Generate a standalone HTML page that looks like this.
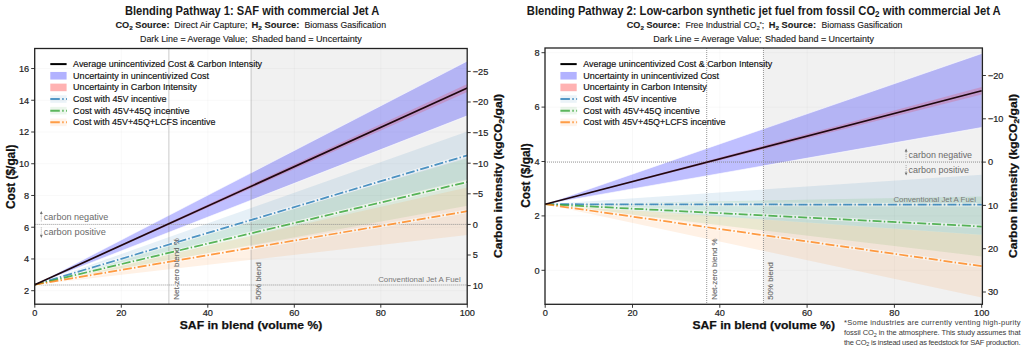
<!DOCTYPE html><html><head><meta charset="utf-8"><style>html,body{margin:0;padding:0;background:#fff;width:1024px;height:348px;overflow:hidden}svg{display:block}text{font-family:"Liberation Sans", sans-serif}</style></head><body>
<svg width="1024" height="348" viewBox="0 0 1024 348">
<rect width="1024" height="348" fill="#fff"/>
<clipPath id="cL"><rect x="34.7" y="48.5" width="432.5" height="255.7"/></clipPath>
<rect x="34.7" y="48.5" width="432.5" height="255.7" fill="#fff"/>
<g clip-path="url(#cL)">
<rect x="251.05" y="48.5" width="216.14999999999998" height="255.7" fill="#f1f1f1"/>
<line x1="34.8" y1="48.5" x2="34.8" y2="304.2" stroke="#000" stroke-opacity="0.035" stroke-width="0.8"/>
<line x1="121.3" y1="48.5" x2="121.3" y2="304.2" stroke="#000" stroke-opacity="0.035" stroke-width="0.8"/>
<line x1="207.8" y1="48.5" x2="207.8" y2="304.2" stroke="#000" stroke-opacity="0.035" stroke-width="0.8"/>
<line x1="294.3" y1="48.5" x2="294.3" y2="304.2" stroke="#000" stroke-opacity="0.035" stroke-width="0.8"/>
<line x1="380.8" y1="48.5" x2="380.8" y2="304.2" stroke="#000" stroke-opacity="0.035" stroke-width="0.8"/>
<line x1="467.3" y1="48.5" x2="467.3" y2="304.2" stroke="#000" stroke-opacity="0.035" stroke-width="0.8"/>
<line x1="34.7" y1="290.7" x2="467.2" y2="290.7" stroke="#000" stroke-opacity="0.035" stroke-width="0.8"/>
<line x1="34.7" y1="258.96" x2="467.2" y2="258.96" stroke="#000" stroke-opacity="0.035" stroke-width="0.8"/>
<line x1="34.7" y1="227.22" x2="467.2" y2="227.22" stroke="#000" stroke-opacity="0.035" stroke-width="0.8"/>
<line x1="34.7" y1="195.48000000000002" x2="467.2" y2="195.48000000000002" stroke="#000" stroke-opacity="0.035" stroke-width="0.8"/>
<line x1="34.7" y1="163.74" x2="467.2" y2="163.74" stroke="#000" stroke-opacity="0.035" stroke-width="0.8"/>
<line x1="34.7" y1="132.0" x2="467.2" y2="132.0" stroke="#000" stroke-opacity="0.035" stroke-width="0.8"/>
<line x1="34.7" y1="100.26000000000002" x2="467.2" y2="100.26000000000002" stroke="#000" stroke-opacity="0.035" stroke-width="0.8"/>
<line x1="34.7" y1="68.52000000000001" x2="467.2" y2="68.52000000000001" stroke="#000" stroke-opacity="0.035" stroke-width="0.8"/>
<path d="M34.8,284.6694 L467.3,131.52390000000003 L467.3,179.1339 Z" fill="#1f77b4" fill-opacity="0.11"/>
<path d="M34.8,284.6694 L467.3,158.18550000000002 L467.3,205.7955 Z" fill="#2ca02c" fill-opacity="0.11"/>
<path d="M34.8,284.6694 L467.3,187.3863 L467.3,234.99630000000002 Z" fill="#ff7f0e" fill-opacity="0.11"/>
<path d="M34.8,284.6694 L467.3,61.06110000000001 L467.3,115.8126 Z" fill="#0000ff" fill-opacity="0.25"/>
<path d="M34.8,284.6694 L467.3,61.06110000000001 M34.8,284.6694 L467.3,115.8126" stroke="#fff" stroke-opacity="0.6" stroke-width="1" fill="none"/>
<path d="M34.8,284.6694 L467.3,84.07260000000002 L467.3,92.00760000000002 Z" fill="#ff0000" fill-opacity="0.16"/>
<line x1="34.7" y1="224.4" x2="467.2" y2="224.4" stroke="#8a8a8a" stroke-width="0.9" stroke-dasharray="1,1"/>
<line x1="34.7" y1="284.9868" x2="467.2" y2="284.9868" stroke="#8a8a8a" stroke-width="0.9" stroke-dasharray="1,1"/>
<line x1="168.875" y1="48.5" x2="168.875" y2="304.2" stroke="#8a8a8a" stroke-width="0.9" stroke-dasharray="1,1"/>
<line x1="251.05" y1="48.5" x2="251.05" y2="304.2" stroke="#8a8a8a" stroke-width="0.9" stroke-dasharray="1,1"/>
<line x1="34.8" y1="284.6694" x2="467.3" y2="155.3289" stroke="#fff" stroke-opacity="0.55" stroke-width="3.6"/>
<line x1="34.8" y1="284.6694" x2="467.3" y2="181.9905" stroke="#fff" stroke-opacity="0.55" stroke-width="3.6"/>
<line x1="34.8" y1="284.6694" x2="467.3" y2="211.1913" stroke="#fff" stroke-opacity="0.55" stroke-width="3.6"/>
<line x1="34.8" y1="284.6694" x2="467.3" y2="155.3289" stroke="#1f77b4" stroke-opacity="0.78" stroke-width="1.75" stroke-dasharray="9,2.25,1.4,2.25"/>
<line x1="34.8" y1="284.6694" x2="467.3" y2="181.9905" stroke="#2ca02c" stroke-opacity="0.78" stroke-width="1.75" stroke-dasharray="9,2.25,1.4,2.25"/>
<line x1="34.8" y1="284.6694" x2="467.3" y2="211.1913" stroke="#ff7f0e" stroke-opacity="0.78" stroke-width="1.75" stroke-dasharray="9,2.25,1.4,2.25"/>
<line x1="34.8" y1="284.6694" x2="467.3" y2="88.04010000000002" stroke="#1f0810" stroke-width="1.7"/>
<line x1="41.3" y1="221.4" x2="41.3" y2="212.4" stroke="#888" stroke-width="0.7" stroke-dasharray="1,1"/>
<path d="M39.9,214.1 L41.3,210.9 L42.699999999999996,214.1 Z" fill="#707070"/>
<line x1="41.3" y1="227.4" x2="41.3" y2="236.4" stroke="#888" stroke-width="0.7" stroke-dasharray="1,1"/>
<path d="M39.9,234.70000000000002 L41.3,237.9 L42.699999999999996,234.70000000000002 Z" fill="#707070"/>
<text x="43.8" y="219.9" font-size="8.5" font-weight="normal" fill="#6a6a6a" text-anchor="start" textLength="64.5" lengthAdjust="spacingAndGlyphs">carbon negative</text>
<text x="43.8" y="235.4" font-size="8.5" font-weight="normal" fill="#6a6a6a" text-anchor="start" textLength="62" lengthAdjust="spacingAndGlyphs">carbon positive</text>
<text x="460.7" y="281.9868" font-size="7.6" font-weight="normal" fill="#777" text-anchor="end" textLength="82.5" lengthAdjust="spacingAndGlyphs">Conventional Jet A Fuel</text>
<text x="178.875" y="299.7" font-size="7.8" font-weight="normal" fill="#6a6a6a" text-anchor="start" textLength="61.5" lengthAdjust="spacingAndGlyphs" transform="rotate(-90 178.875 299.7)" stroke="#6a6a6a" stroke-width="0.12">Net-zero blend %</text>
<text x="261.05" y="299.7" font-size="7.8" font-weight="normal" fill="#6a6a6a" text-anchor="start" textLength="37.5" lengthAdjust="spacingAndGlyphs" transform="rotate(-90 261.05 299.7)" stroke="#6a6a6a" stroke-width="0.12">50% blend</text>
</g>
<rect x="34.7" y="48.5" width="432.5" height="255.7" fill="none" stroke="#222" stroke-width="1.3"/>
<line x1="31.200000000000003" y1="290.7" x2="34.7" y2="290.7" stroke="#222" stroke-width="0.9"/>
<text x="29.200000000000003" y="294.0" font-size="9.2" font-weight="normal" fill="#222" text-anchor="end" stroke="#222" stroke-width="0.2">2</text>
<line x1="31.200000000000003" y1="258.96" x2="34.7" y2="258.96" stroke="#222" stroke-width="0.9"/>
<text x="29.200000000000003" y="262.26" font-size="9.2" font-weight="normal" fill="#222" text-anchor="end" stroke="#222" stroke-width="0.2">4</text>
<line x1="31.200000000000003" y1="227.22" x2="34.7" y2="227.22" stroke="#222" stroke-width="0.9"/>
<text x="29.200000000000003" y="230.52" font-size="9.2" font-weight="normal" fill="#222" text-anchor="end" stroke="#222" stroke-width="0.2">6</text>
<line x1="31.200000000000003" y1="195.48000000000002" x2="34.7" y2="195.48000000000002" stroke="#222" stroke-width="0.9"/>
<text x="29.200000000000003" y="198.78000000000003" font-size="9.2" font-weight="normal" fill="#222" text-anchor="end" stroke="#222" stroke-width="0.2">8</text>
<line x1="31.200000000000003" y1="163.74" x2="34.7" y2="163.74" stroke="#222" stroke-width="0.9"/>
<text x="29.200000000000003" y="167.04000000000002" font-size="9.2" font-weight="normal" fill="#222" text-anchor="end" stroke="#222" stroke-width="0.2">10</text>
<line x1="31.200000000000003" y1="132.0" x2="34.7" y2="132.0" stroke="#222" stroke-width="0.9"/>
<text x="29.200000000000003" y="135.3" font-size="9.2" font-weight="normal" fill="#222" text-anchor="end" stroke="#222" stroke-width="0.2">12</text>
<line x1="31.200000000000003" y1="100.26000000000002" x2="34.7" y2="100.26000000000002" stroke="#222" stroke-width="0.9"/>
<text x="29.200000000000003" y="103.56000000000002" font-size="9.2" font-weight="normal" fill="#222" text-anchor="end" stroke="#222" stroke-width="0.2">14</text>
<line x1="31.200000000000003" y1="68.52000000000001" x2="34.7" y2="68.52000000000001" stroke="#222" stroke-width="0.9"/>
<text x="29.200000000000003" y="71.82000000000001" font-size="9.2" font-weight="normal" fill="#222" text-anchor="end" stroke="#222" stroke-width="0.2">16</text>
<line x1="467.2" y1="71.4" x2="470.7" y2="71.4" stroke="#222" stroke-width="0.9"/>
<text x="472.7" y="74.7" font-size="9.2" font-weight="normal" fill="#222" text-anchor="start" stroke="#222" stroke-width="0.2">−25</text>
<line x1="467.2" y1="102.0" x2="470.7" y2="102.0" stroke="#222" stroke-width="0.9"/>
<text x="472.7" y="105.3" font-size="9.2" font-weight="normal" fill="#222" text-anchor="start" stroke="#222" stroke-width="0.2">−20</text>
<line x1="467.2" y1="132.60000000000002" x2="470.7" y2="132.60000000000002" stroke="#222" stroke-width="0.9"/>
<text x="472.7" y="135.90000000000003" font-size="9.2" font-weight="normal" fill="#222" text-anchor="start" stroke="#222" stroke-width="0.2">−15</text>
<line x1="467.2" y1="163.2" x2="470.7" y2="163.2" stroke="#222" stroke-width="0.9"/>
<text x="472.7" y="166.5" font-size="9.2" font-weight="normal" fill="#222" text-anchor="start" stroke="#222" stroke-width="0.2">−10</text>
<line x1="467.2" y1="193.8" x2="470.7" y2="193.8" stroke="#222" stroke-width="0.9"/>
<text x="472.7" y="197.10000000000002" font-size="9.2" font-weight="normal" fill="#222" text-anchor="start" stroke="#222" stroke-width="0.2">−5</text>
<line x1="467.2" y1="224.4" x2="470.7" y2="224.4" stroke="#222" stroke-width="0.9"/>
<text x="472.7" y="227.70000000000002" font-size="9.2" font-weight="normal" fill="#222" text-anchor="start" stroke="#222" stroke-width="0.2">0</text>
<line x1="467.2" y1="255.0" x2="470.7" y2="255.0" stroke="#222" stroke-width="0.9"/>
<text x="472.7" y="258.3" font-size="9.2" font-weight="normal" fill="#222" text-anchor="start" stroke="#222" stroke-width="0.2">5</text>
<line x1="467.2" y1="285.6" x2="470.7" y2="285.6" stroke="#222" stroke-width="0.9"/>
<text x="472.7" y="288.90000000000003" font-size="9.2" font-weight="normal" fill="#222" text-anchor="start" stroke="#222" stroke-width="0.2">10</text>
<line x1="34.8" y1="304.2" x2="34.8" y2="307.7" stroke="#222" stroke-width="0.9"/>
<text x="34.8" y="315.5" font-size="9.2" font-weight="normal" fill="#222" text-anchor="middle" stroke="#222" stroke-width="0.2">0</text>
<line x1="121.3" y1="304.2" x2="121.3" y2="307.7" stroke="#222" stroke-width="0.9"/>
<text x="121.3" y="315.5" font-size="9.2" font-weight="normal" fill="#222" text-anchor="middle" stroke="#222" stroke-width="0.2">20</text>
<line x1="207.8" y1="304.2" x2="207.8" y2="307.7" stroke="#222" stroke-width="0.9"/>
<text x="207.8" y="315.5" font-size="9.2" font-weight="normal" fill="#222" text-anchor="middle" stroke="#222" stroke-width="0.2">40</text>
<line x1="294.3" y1="304.2" x2="294.3" y2="307.7" stroke="#222" stroke-width="0.9"/>
<text x="294.3" y="315.5" font-size="9.2" font-weight="normal" fill="#222" text-anchor="middle" stroke="#222" stroke-width="0.2">60</text>
<line x1="380.8" y1="304.2" x2="380.8" y2="307.7" stroke="#222" stroke-width="0.9"/>
<text x="380.8" y="315.5" font-size="9.2" font-weight="normal" fill="#222" text-anchor="middle" stroke="#222" stroke-width="0.2">80</text>
<line x1="467.3" y1="304.2" x2="467.3" y2="307.7" stroke="#222" stroke-width="0.9"/>
<text x="467.3" y="315.5" font-size="9.2" font-weight="normal" fill="#222" text-anchor="middle" stroke="#222" stroke-width="0.2">100</text>
<text x="15.5" y="176.8" font-size="12.4" font-weight="bold" fill="#111" text-anchor="middle" textLength="64.5" lengthAdjust="spacingAndGlyphs" transform="rotate(-90 15.5 176.8)" stroke="#111" stroke-width="0.25">Cost ($/gal)</text>
<text x="501.5" y="176" font-size="10.8" font-weight="bold" fill="#111" stroke="#111" stroke-width="0.25" text-anchor="middle" transform="rotate(-90 501.5 176)" textLength="164" lengthAdjust="spacingAndGlyphs">Carbon intensity (kgCO<tspan font-size="7.5" dy="2">2</tspan><tspan dy="-2">/gal)</tspan></text>
<text x="251" y="329" font-size="11.8" font-weight="bold" fill="#111" text-anchor="middle" textLength="142.5" lengthAdjust="spacingAndGlyphs" stroke="#111" stroke-width="0.25">SAF in blend (volume %)</text>
<line x1="50.3" y1="64.1" x2="66.6" y2="64.1" stroke="#000" stroke-width="2"/>
<rect x="50.3" y="71.95" width="16.3" height="7.6" fill="#0000ff" fill-opacity="0.3"/>
<rect x="50.3" y="83.6" width="16.3" height="7.6" fill="#ff0000" fill-opacity="0.3"/>
<rect x="50.3" y="95.25" width="16.3" height="7.6" fill="#1f77b4" fill-opacity="0.09"/>
<line x1="50.3" y1="99.05" x2="67.0" y2="99.05" stroke="#1f77b4" stroke-opacity="0.75" stroke-width="2" stroke-dasharray="9.5,2.4,1.5,2.4"/>
<rect x="50.3" y="106.89999999999999" width="16.3" height="7.6" fill="#2ca02c" fill-opacity="0.09"/>
<line x1="50.3" y1="110.69999999999999" x2="67.0" y2="110.69999999999999" stroke="#2ca02c" stroke-opacity="0.75" stroke-width="2" stroke-dasharray="9.5,2.4,1.5,2.4"/>
<rect x="50.3" y="118.55" width="16.3" height="7.6" fill="#ff7f0e" fill-opacity="0.09"/>
<line x1="50.3" y1="122.35" x2="67.0" y2="122.35" stroke="#ff7f0e" stroke-opacity="0.75" stroke-width="2" stroke-dasharray="9.5,2.4,1.5,2.4"/>
<text x="73.1" y="66.89999999999999" font-size="9.8" font-weight="normal" fill="#111" text-anchor="start" textLength="189" lengthAdjust="spacingAndGlyphs" stroke="#111" stroke-width="0.18">Average unincentivized Cost &amp; Carbon Intensity</text>
<text x="73.1" y="78.55" font-size="9.8" font-weight="normal" fill="#111" text-anchor="start" textLength="135.9" lengthAdjust="spacingAndGlyphs" stroke="#111" stroke-width="0.18">Uncertainty in unincentivized Cost</text>
<text x="73.1" y="90.19999999999999" font-size="9.8" font-weight="normal" fill="#111" text-anchor="start" textLength="123.6" lengthAdjust="spacingAndGlyphs" stroke="#111" stroke-width="0.18">Uncertainty in Carbon Intensity</text>
<text x="73.1" y="101.85" font-size="9.8" font-weight="normal" fill="#111" text-anchor="start" textLength="93.4" lengthAdjust="spacingAndGlyphs" stroke="#111" stroke-width="0.18">Cost with 45V incentive</text>
<text x="73.1" y="113.49999999999999" font-size="9.8" font-weight="normal" fill="#111" text-anchor="start" textLength="116.5" lengthAdjust="spacingAndGlyphs" stroke="#111" stroke-width="0.18">Cost with 45V+45Q incentive</text>
<text x="73.1" y="125.14999999999999" font-size="9.8" font-weight="normal" fill="#111" text-anchor="start" textLength="142.3" lengthAdjust="spacingAndGlyphs" stroke="#111" stroke-width="0.18">Cost with 45V+45Q+LCFS incentive</text>
<clipPath id="cR"><rect x="545.0" y="48.0" width="437.4" height="256.3"/></clipPath>
<rect x="545.0" y="48.0" width="437.4" height="256.3" fill="#fff"/>
<g clip-path="url(#cR)">
<rect x="763.45" y="48.0" width="218.94999999999993" height="256.3" fill="#f1f1f1"/>
<line x1="545.2" y1="48.0" x2="545.2" y2="304.3" stroke="#000" stroke-opacity="0.035" stroke-width="0.8"/>
<line x1="632.5" y1="48.0" x2="632.5" y2="304.3" stroke="#000" stroke-opacity="0.035" stroke-width="0.8"/>
<line x1="719.8000000000001" y1="48.0" x2="719.8000000000001" y2="304.3" stroke="#000" stroke-opacity="0.035" stroke-width="0.8"/>
<line x1="807.1000000000001" y1="48.0" x2="807.1000000000001" y2="304.3" stroke="#000" stroke-opacity="0.035" stroke-width="0.8"/>
<line x1="894.4000000000001" y1="48.0" x2="894.4000000000001" y2="304.3" stroke="#000" stroke-opacity="0.035" stroke-width="0.8"/>
<line x1="981.7" y1="48.0" x2="981.7" y2="304.3" stroke="#000" stroke-opacity="0.035" stroke-width="0.8"/>
<line x1="545.0" y1="270.3" x2="982.4" y2="270.3" stroke="#000" stroke-opacity="0.035" stroke-width="0.8"/>
<line x1="545.0" y1="215.9" x2="982.4" y2="215.9" stroke="#000" stroke-opacity="0.035" stroke-width="0.8"/>
<line x1="545.0" y1="161.5" x2="982.4" y2="161.5" stroke="#000" stroke-opacity="0.035" stroke-width="0.8"/>
<line x1="545.0" y1="107.10000000000002" x2="982.4" y2="107.10000000000002" stroke="#000" stroke-opacity="0.035" stroke-width="0.8"/>
<line x1="545.0" y1="52.70000000000002" x2="982.4" y2="52.70000000000002" stroke="#000" stroke-opacity="0.035" stroke-width="0.8"/>
<path d="M545.2,204.204 L981.7,174.828 L981.7,234.668 Z" fill="#1f77b4" fill-opacity="0.11"/>
<path d="M545.2,204.204 L981.7,196.58800000000002 L981.7,256.428 Z" fill="#2ca02c" fill-opacity="0.11"/>
<path d="M545.2,204.204 L981.7,234.94000000000003 L981.7,297.5 Z" fill="#ff7f0e" fill-opacity="0.11"/>
<path d="M545.2,204.204 L981.7,53.51600000000002 L981.7,127.50000000000003 Z" fill="#0000ff" fill-opacity="0.25"/>
<path d="M545.2,204.204 L981.7,53.51600000000002 M545.2,204.204 L981.7,127.50000000000003" stroke="#fff" stroke-opacity="0.6" stroke-width="1" fill="none"/>
<path d="M545.2,204.204 L981.7,86.97200000000004 L981.7,94.58800000000002 Z" fill="#ff0000" fill-opacity="0.16"/>
<line x1="545.0" y1="162.1" x2="982.4" y2="162.1" stroke="#8a8a8a" stroke-width="0.9" stroke-dasharray="1,1"/>
<line x1="545.0" y1="204.748" x2="982.4" y2="204.748" stroke="#8a8a8a" stroke-width="0.9" stroke-dasharray="1,1"/>
<line x1="706.705" y1="48.0" x2="706.705" y2="304.3" stroke="#8a8a8a" stroke-width="0.9" stroke-dasharray="1,1"/>
<line x1="763.45" y1="48.0" x2="763.45" y2="304.3" stroke="#8a8a8a" stroke-width="0.9" stroke-dasharray="1,1"/>
<line x1="545.2" y1="204.204" x2="981.7" y2="204.748" stroke="#fff" stroke-opacity="0.55" stroke-width="3.6"/>
<line x1="545.2" y1="204.204" x2="981.7" y2="226.508" stroke="#fff" stroke-opacity="0.55" stroke-width="3.6"/>
<line x1="545.2" y1="204.204" x2="981.7" y2="266.22" stroke="#fff" stroke-opacity="0.55" stroke-width="3.6"/>
<line x1="545.2" y1="204.204" x2="981.7" y2="204.748" stroke="#1f77b4" stroke-opacity="0.78" stroke-width="1.75" stroke-dasharray="9,2.25,1.4,2.25"/>
<line x1="545.2" y1="204.204" x2="981.7" y2="226.508" stroke="#2ca02c" stroke-opacity="0.78" stroke-width="1.75" stroke-dasharray="9,2.25,1.4,2.25"/>
<line x1="545.2" y1="204.204" x2="981.7" y2="266.22" stroke="#ff7f0e" stroke-opacity="0.78" stroke-width="1.75" stroke-dasharray="9,2.25,1.4,2.25"/>
<line x1="545.2" y1="204.204" x2="981.7" y2="90.78000000000003" stroke="#1f0810" stroke-width="1.7"/>
<line x1="906.1" y1="159.1" x2="906.1" y2="150.1" stroke="#888" stroke-width="0.7" stroke-dasharray="1,1"/>
<path d="M904.7,151.79999999999998 L906.1,148.6 L907.5,151.79999999999998 Z" fill="#707070"/>
<line x1="906.1" y1="165.1" x2="906.1" y2="174.1" stroke="#888" stroke-width="0.7" stroke-dasharray="1,1"/>
<path d="M904.7,172.4 L906.1,175.6 L907.5,172.4 Z" fill="#707070"/>
<text x="908.6" y="157.6" font-size="8.5" font-weight="normal" fill="#6a6a6a" text-anchor="start" textLength="63.5" lengthAdjust="spacingAndGlyphs">carbon negative</text>
<text x="908.6" y="173.1" font-size="8.5" font-weight="normal" fill="#6a6a6a" text-anchor="start" textLength="60.3" lengthAdjust="spacingAndGlyphs">carbon positive</text>
<text x="975.9" y="201.748" font-size="7.6" font-weight="normal" fill="#777" text-anchor="end" textLength="82.5" lengthAdjust="spacingAndGlyphs">Conventional Jet A Fuel</text>
<text x="716.705" y="299.8" font-size="7.8" font-weight="normal" fill="#6a6a6a" text-anchor="start" textLength="61.5" lengthAdjust="spacingAndGlyphs" transform="rotate(-90 716.705 299.8)" stroke="#6a6a6a" stroke-width="0.12">Net-zero blend %</text>
<text x="773.45" y="299.8" font-size="7.8" font-weight="normal" fill="#6a6a6a" text-anchor="start" textLength="37.5" lengthAdjust="spacingAndGlyphs" transform="rotate(-90 773.45 299.8)" stroke="#6a6a6a" stroke-width="0.12">50% blend</text>
</g>
<rect x="545.0" y="48.0" width="437.4" height="256.3" fill="none" stroke="#222" stroke-width="1.3"/>
<line x1="541.5" y1="270.3" x2="545.0" y2="270.3" stroke="#222" stroke-width="0.9"/>
<text x="539.5" y="273.6" font-size="9.2" font-weight="normal" fill="#222" text-anchor="end" stroke="#222" stroke-width="0.2">0</text>
<line x1="541.5" y1="215.9" x2="545.0" y2="215.9" stroke="#222" stroke-width="0.9"/>
<text x="539.5" y="219.20000000000002" font-size="9.2" font-weight="normal" fill="#222" text-anchor="end" stroke="#222" stroke-width="0.2">2</text>
<line x1="541.5" y1="161.5" x2="545.0" y2="161.5" stroke="#222" stroke-width="0.9"/>
<text x="539.5" y="164.8" font-size="9.2" font-weight="normal" fill="#222" text-anchor="end" stroke="#222" stroke-width="0.2">4</text>
<line x1="541.5" y1="107.10000000000002" x2="545.0" y2="107.10000000000002" stroke="#222" stroke-width="0.9"/>
<text x="539.5" y="110.40000000000002" font-size="9.2" font-weight="normal" fill="#222" text-anchor="end" stroke="#222" stroke-width="0.2">6</text>
<line x1="541.5" y1="52.70000000000002" x2="545.0" y2="52.70000000000002" stroke="#222" stroke-width="0.9"/>
<text x="539.5" y="56.000000000000014" font-size="9.2" font-weight="normal" fill="#222" text-anchor="end" stroke="#222" stroke-width="0.2">8</text>
<line x1="982.4" y1="75.5" x2="985.9" y2="75.5" stroke="#222" stroke-width="0.9"/>
<text x="987.9" y="78.8" font-size="9.2" font-weight="normal" fill="#222" text-anchor="start" stroke="#222" stroke-width="0.2">−20</text>
<line x1="982.4" y1="118.8" x2="985.9" y2="118.8" stroke="#222" stroke-width="0.9"/>
<text x="987.9" y="122.1" font-size="9.2" font-weight="normal" fill="#222" text-anchor="start" stroke="#222" stroke-width="0.2">−10</text>
<line x1="982.4" y1="162.1" x2="985.9" y2="162.1" stroke="#222" stroke-width="0.9"/>
<text x="987.9" y="165.4" font-size="9.2" font-weight="normal" fill="#222" text-anchor="start" stroke="#222" stroke-width="0.2">0</text>
<line x1="982.4" y1="205.39999999999998" x2="985.9" y2="205.39999999999998" stroke="#222" stroke-width="0.9"/>
<text x="987.9" y="208.7" font-size="9.2" font-weight="normal" fill="#222" text-anchor="start" stroke="#222" stroke-width="0.2">10</text>
<line x1="982.4" y1="248.7" x2="985.9" y2="248.7" stroke="#222" stroke-width="0.9"/>
<text x="987.9" y="252.0" font-size="9.2" font-weight="normal" fill="#222" text-anchor="start" stroke="#222" stroke-width="0.2">20</text>
<line x1="982.4" y1="292.0" x2="985.9" y2="292.0" stroke="#222" stroke-width="0.9"/>
<text x="987.9" y="295.3" font-size="9.2" font-weight="normal" fill="#222" text-anchor="start" stroke="#222" stroke-width="0.2">30</text>
<line x1="545.2" y1="304.3" x2="545.2" y2="307.8" stroke="#222" stroke-width="0.9"/>
<text x="545.2" y="315.6" font-size="9.2" font-weight="normal" fill="#222" text-anchor="middle" stroke="#222" stroke-width="0.2">0</text>
<line x1="632.5" y1="304.3" x2="632.5" y2="307.8" stroke="#222" stroke-width="0.9"/>
<text x="632.5" y="315.6" font-size="9.2" font-weight="normal" fill="#222" text-anchor="middle" stroke="#222" stroke-width="0.2">20</text>
<line x1="719.8000000000001" y1="304.3" x2="719.8000000000001" y2="307.8" stroke="#222" stroke-width="0.9"/>
<text x="719.8000000000001" y="315.6" font-size="9.2" font-weight="normal" fill="#222" text-anchor="middle" stroke="#222" stroke-width="0.2">40</text>
<line x1="807.1000000000001" y1="304.3" x2="807.1000000000001" y2="307.8" stroke="#222" stroke-width="0.9"/>
<text x="807.1000000000001" y="315.6" font-size="9.2" font-weight="normal" fill="#222" text-anchor="middle" stroke="#222" stroke-width="0.2">60</text>
<line x1="894.4000000000001" y1="304.3" x2="894.4000000000001" y2="307.8" stroke="#222" stroke-width="0.9"/>
<text x="894.4000000000001" y="315.6" font-size="9.2" font-weight="normal" fill="#222" text-anchor="middle" stroke="#222" stroke-width="0.2">80</text>
<line x1="981.7" y1="304.3" x2="981.7" y2="307.8" stroke="#222" stroke-width="0.9"/>
<text x="981.7" y="315.6" font-size="9.2" font-weight="normal" fill="#222" text-anchor="middle" stroke="#222" stroke-width="0.2">100</text>
<text x="530.3" y="175.5" font-size="12.4" font-weight="bold" fill="#111" text-anchor="middle" textLength="64.5" lengthAdjust="spacingAndGlyphs" transform="rotate(-90 530.3 175.5)" stroke="#111" stroke-width="0.25">Cost ($/gal)</text>
<text x="1017" y="176" font-size="10.8" font-weight="bold" fill="#111" stroke="#111" stroke-width="0.25" text-anchor="middle" transform="rotate(-90 1017 176)" textLength="164" lengthAdjust="spacingAndGlyphs">Carbon intensity (kgCO<tspan font-size="7.5" dy="2">2</tspan><tspan dy="-2">/gal)</tspan></text>
<text x="763.7" y="329" font-size="11.8" font-weight="bold" fill="#111" text-anchor="middle" textLength="142.5" lengthAdjust="spacingAndGlyphs" stroke="#111" stroke-width="0.25">SAF in blend (volume %)</text>
<line x1="560.4" y1="64.1" x2="576.6999999999999" y2="64.1" stroke="#000" stroke-width="2"/>
<rect x="560.4" y="71.95" width="16.3" height="7.6" fill="#0000ff" fill-opacity="0.3"/>
<rect x="560.4" y="83.6" width="16.3" height="7.6" fill="#ff0000" fill-opacity="0.3"/>
<rect x="560.4" y="95.25" width="16.3" height="7.6" fill="#1f77b4" fill-opacity="0.09"/>
<line x1="560.4" y1="99.05" x2="577.1" y2="99.05" stroke="#1f77b4" stroke-opacity="0.75" stroke-width="2" stroke-dasharray="9.5,2.4,1.5,2.4"/>
<rect x="560.4" y="106.89999999999999" width="16.3" height="7.6" fill="#2ca02c" fill-opacity="0.09"/>
<line x1="560.4" y1="110.69999999999999" x2="577.1" y2="110.69999999999999" stroke="#2ca02c" stroke-opacity="0.75" stroke-width="2" stroke-dasharray="9.5,2.4,1.5,2.4"/>
<rect x="560.4" y="118.55" width="16.3" height="7.6" fill="#ff7f0e" fill-opacity="0.09"/>
<line x1="560.4" y1="122.35" x2="577.1" y2="122.35" stroke="#ff7f0e" stroke-opacity="0.75" stroke-width="2" stroke-dasharray="9.5,2.4,1.5,2.4"/>
<text x="583.1999999999999" y="66.89999999999999" font-size="9.8" font-weight="normal" fill="#111" text-anchor="start" textLength="189" lengthAdjust="spacingAndGlyphs" stroke="#111" stroke-width="0.18">Average unincentivized Cost &amp; Carbon Intensity</text>
<text x="583.1999999999999" y="78.55" font-size="9.8" font-weight="normal" fill="#111" text-anchor="start" textLength="135.9" lengthAdjust="spacingAndGlyphs" stroke="#111" stroke-width="0.18">Uncertainty in unincentivized Cost</text>
<text x="583.1999999999999" y="90.19999999999999" font-size="9.8" font-weight="normal" fill="#111" text-anchor="start" textLength="123.6" lengthAdjust="spacingAndGlyphs" stroke="#111" stroke-width="0.18">Uncertainty in Carbon Intensity</text>
<text x="583.1999999999999" y="101.85" font-size="9.8" font-weight="normal" fill="#111" text-anchor="start" textLength="93.4" lengthAdjust="spacingAndGlyphs" stroke="#111" stroke-width="0.18">Cost with 45V incentive</text>
<text x="583.1999999999999" y="113.49999999999999" font-size="9.8" font-weight="normal" fill="#111" text-anchor="start" textLength="116.5" lengthAdjust="spacingAndGlyphs" stroke="#111" stroke-width="0.18">Cost with 45V+45Q incentive</text>
<text x="583.1999999999999" y="125.14999999999999" font-size="9.8" font-weight="normal" fill="#111" text-anchor="start" textLength="142.3" lengthAdjust="spacingAndGlyphs" stroke="#111" stroke-width="0.18">Cost with 45V+45Q+LCFS incentive</text>
<text x="252.1" y="14.9" font-size="12.6" font-weight="bold" fill="#1a1a1a" text-anchor="middle" textLength="254.3" lengthAdjust="spacingAndGlyphs">Blending Pathway 1: SAF with commercial Jet A</text>
<text x="526.8" y="14.9" font-size="12.6" font-weight="bold" fill="#1a1a1a" textLength="473.9" lengthAdjust="spacingAndGlyphs">Blending Pathway 2: Low-carbon synthetic jet fuel from fossil CO<tspan font-size="9" dy="2">2</tspan><tspan dy="-2"> with commercial Jet A</tspan></text>
<text x="115.5" y="28" font-size="8.7" font-weight="bold" fill="#1a1a1a" stroke="#1a1a1a" stroke-width="0.12" textLength="54" lengthAdjust="spacingAndGlyphs">CO<tspan font-size="6" dy="1.5">2</tspan><tspan dy="-1.5"> Source:</tspan></text>
<text x="174.3" y="28" font-size="8.7" font-weight="normal" fill="#1a1a1a" stroke="#1a1a1a" stroke-width="0.12" textLength="73.1" lengthAdjust="spacingAndGlyphs">Direct Air Capture;</text>
<text x="251.4" y="28" font-size="8.7" font-weight="bold" fill="#1a1a1a" stroke="#1a1a1a" stroke-width="0.12" textLength="48.1" lengthAdjust="spacingAndGlyphs">H<tspan font-size="6" dy="1.5">2</tspan><tspan dy="-1.5"> Source:</tspan></text>
<text x="304.5" y="28" font-size="8.7" font-weight="normal" fill="#1a1a1a" stroke="#1a1a1a" stroke-width="0.12" textLength="81.5" lengthAdjust="spacingAndGlyphs">Biomass Gasification</text>
<text x="140" y="41.8" font-size="8.7" font-weight="normal" fill="#1a1a1a" stroke="#1a1a1a" stroke-width="0.12" textLength="107.4" lengthAdjust="spacingAndGlyphs">Dark Line = Average Value;</text>
<text x="251.8" y="41.8" font-size="8.7" font-weight="normal" fill="#1a1a1a" stroke="#1a1a1a" stroke-width="0.12" textLength="110.1" lengthAdjust="spacingAndGlyphs">Shaded band = Uncertainty</text>
<text x="626.8" y="28" font-size="8.7" font-weight="bold" fill="#1a1a1a" stroke="#1a1a1a" stroke-width="0.12" textLength="53.4" lengthAdjust="spacingAndGlyphs">CO<tspan font-size="6" dy="1.5">2</tspan><tspan dy="-1.5"> Source:</tspan></text>
<text x="685.4" y="28" font-size="8.7" font-weight="normal" fill="#1a1a1a" stroke="#1a1a1a" stroke-width="0.12" textLength="78.8" lengthAdjust="spacingAndGlyphs">Free Industrial CO<tspan font-size="6" dy="1.5">2</tspan><tspan font-size="5" dy="-4">*</tspan><tspan dy="2.5">;</tspan></text>
<text x="768.8" y="28" font-size="8.7" font-weight="bold" fill="#1a1a1a" stroke="#1a1a1a" stroke-width="0.12" textLength="47.2" lengthAdjust="spacingAndGlyphs">H<tspan font-size="6" dy="1.5">2</tspan><tspan dy="-1.5"> Source:</tspan></text>
<text x="821.6" y="28" font-size="8.7" font-weight="normal" fill="#1a1a1a" stroke="#1a1a1a" stroke-width="0.12" textLength="80.8" lengthAdjust="spacingAndGlyphs">Biomass Gasification</text>
<text x="653.3" y="41.8" font-size="8.7" font-weight="normal" fill="#1a1a1a" stroke="#1a1a1a" stroke-width="0.12" textLength="108.3" lengthAdjust="spacingAndGlyphs">Dark Line = Average Value;</text>
<text x="765" y="41.8" font-size="8.7" font-weight="normal" fill="#1a1a1a" stroke="#1a1a1a" stroke-width="0.12" textLength="109" lengthAdjust="spacingAndGlyphs">Shaded band = Uncertainty</text>
<text x="844" y="325.3" font-size="7.5" fill="#3a3a3a" textLength="176.6" lengthAdjust="spacing">*Some industries are currently venting high-purity</text>
<text x="844" y="335.1" font-size="7.5" fill="#3a3a3a" textLength="176.6" lengthAdjust="spacing">fossil CO<tspan font-size="5.5" dy="1.5">2</tspan><tspan dy="-1.5"> in the atmosphere. This study assumes that</tspan></text>
<text x="844" y="344.8" font-size="7.5" fill="#3a3a3a" textLength="176.6" lengthAdjust="spacing">the CO<tspan font-size="5.5" dy="1.5">2</tspan><tspan dy="-1.5"> is instead used as feedstock for SAF production.</tspan></text>
</svg></body></html>
